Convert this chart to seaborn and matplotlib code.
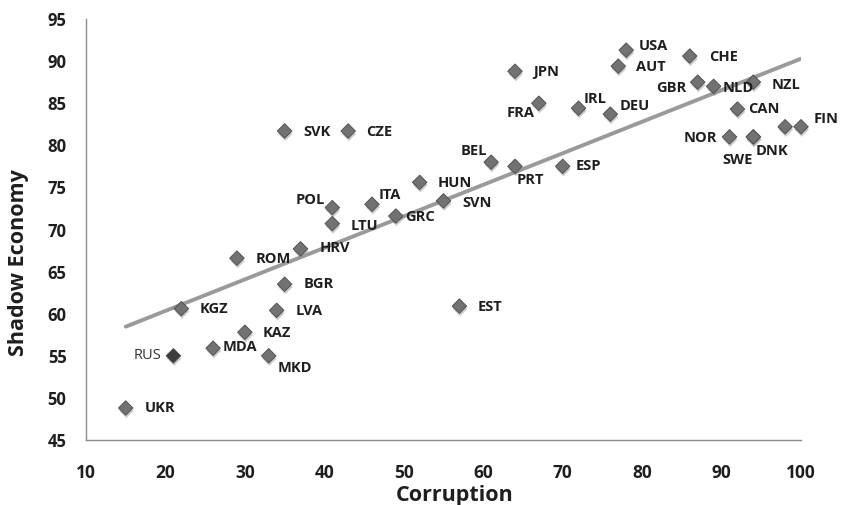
import matplotlib
matplotlib.use("Agg")
import matplotlib.pyplot as plt
import matplotlib.patheffects as pe
import seaborn as sns
import pandas as pd

# values
countries = ["UKR", "RUS", "KGZ", "MDA", "KAZ", "MKD", "LVA", "BGR", "ROM", "HRV",
             "LTU", "POL", "ITA", "GRC", "HUN", "SVN", "SVK", "CZE", "EST", "BEL",
             "PRT", "ESP", "FRA", "JPN", "IRL", "DEU", "AUT", "USA", "CHE", "GBR",
             "NLD", "NZL", "CAN", "NOR", "SWE", "DNK", "", "FIN"]
corruption = [15, 21, 22, 26, 30, 33, 34, 35, 29, 37,
              41, 41, 46, 49, 52, 55, 35, 43, 57, 61,
              64, 70, 67, 64, 72, 76, 77, 78, 86, 87,
              89, 94, 92, 91, 94, 94, 98, 100]
shadow = [48.8, 55.0, 60.6, 55.9, 57.8, 55.0, 60.4, 63.5, 66.6, 67.7,
          70.7, 72.6, 73.0, 71.6, 75.6, 73.4, 81.7, 81.7, 60.9, 78.0,
          77.5, 77.5, 85.0, 88.8, 84.4, 83.7, 89.4, 91.3, 90.6, 87.5,
          87.0, 87.5, 84.3, 81.0, 81.0, 81.0, 82.2, 82.2]

df = pd.DataFrame({"Country": countries, "Corruption": corruption, "Shadow": shadow})
df["group"] = ["highlight" if c == "RUS" else "other" for c in df["Country"]]

# label offsets in pixels (dx, dy up), and horizontal alignment
label_pos = {
    "UKR": (19, 0, "left"), "RUS": (-12, 0, "right"), "KGZ": (18, 0, "left"),
    "MDA": (10, 1, "left"), "KAZ": (18, -1, "left"), "MKD": (9, -12, "left"),
    "LVA": (19, -1, "left"), "BGR": (19, 0, "left"), "ROM": (19, -1, "left"),
    "HRV": (19, 1, "left"), "LTU": (18, -2, "left"), "POL": (-7, 8, "right"),
    "ITA": (7, 9, "left"), "GRC": (9, -1, "left"), "HUN": (18, -1, "left"),
    "SVN": (19, -2, "left"), "SVK": (19, -1, "left"), "CZE": (18, -1, "left"),
    "EST": (18, -1, "left"), "BEL": (-4, 11, "right"), "PRT": (2, -14, "left"),
    "ESP": (13, 0, "left"), "FRA": (-4, -10, "right"), "JPN": (18, -1, "left"),
    "IRL": (5, 9, "left"), "DEU": (9, 8, "left"), "AUT": (18, -1, "left"),
    "USA": (13, 4, "left"), "CHE": (19, -1, "left"), "GBR": (-11, -6, "right"),
    "NLD": (9, -2, "left"), "NZL": (18, -3, "left"), "CAN": (11, 0, "left"),
    "NOR": (-12, -1, "right"), "SWE": (-1, -23, "right"), "DNK": (2, -14, "left"),
    "FIN": (13, 8, "left"),
}

sns.set_theme(style="white")
plt.rcParams["font.family"] = ["Open Sans", "DejaVu Sans"]

fig = plt.figure(figsize=(8.41, 5.05), dpi=100)
ax = fig.add_axes([86 / 841, 65 / 505, 715 / 841, 421 / 505])

sns.regplot(data=df, x="Corruption", y="Shadow", ci=None, scatter=False, ax=ax,
            line_kws={"color": "#9a9a9a", "lw": 2.8, "zorder": 1})

sns.scatterplot(data=df, x="Corruption", y="Shadow", hue="group",
                palette={"other": "#727272", "highlight": "#3c3c3c"},
                marker="D", s=55, edgecolor="#4a4a4a", linewidth=0.6,
                legend=False, ax=ax, zorder=3, clip_on=False)
for coll in ax.collections:
    coll.set_path_effects([pe.SimplePatchShadow(offset=(0.5, -2), shadow_rgbFace="#999999", alpha=0.5),
                           pe.Normal()])

px = 0.72  # points per pixel at 100 dpi
for _, row in df.iterrows():
    name = row["Country"]
    if name not in label_pos:
        continue
    dx, dy, ha = label_pos[name]
    bold = name != "RUS"
    ax.annotate(name, (row["Corruption"], row["Shadow"]), xytext=(dx * px, dy * px),
                textcoords="offset points", ha=ha, va="center",
                fontsize=10.5, fontweight="bold" if bold else "normal",
                color="#1e1e1e" if bold else "#333333", zorder=4)

ax.set_xlim(10, 100)
ax.set_ylim(45, 95)
ax.set_xticks(range(10, 101, 10))
ax.set_yticks(range(45, 96, 5))
ax.tick_params(axis="both", length=0)
ax.tick_params(axis="x", pad=17, labelsize=12.5)
ax.tick_params(axis="y", pad=14, labelsize=12)
for lab in ax.get_xticklabels() + ax.get_yticklabels():
    lab.set_fontweight("bold")
    lab.set_color("#1e1e1e")

for side in ["top", "right"]:
    ax.spines[side].set_visible(False)
for side in ["left", "bottom"]:
    ax.spines[side].set_color("#8c8c8c")
    ax.spines[side].set_linewidth(1.0)

ax.set_xlabel("Corruption", fontsize=15.5, fontweight="bold", color="#1e1e1e")
ax.set_ylabel("Shadow Economy", fontsize=15.5, fontweight="bold", color="#1e1e1e")
ax.xaxis.label.set_va("center")
ax.yaxis.label.set_va("center")
ax.xaxis.set_label_coords((455 - 86) / 715, (440 - 495) / 421)
ax.yaxis.set_label_coords((18 - 86) / 715, (440 - 263) / 421)

fig.savefig("out.png", dpi=100)
